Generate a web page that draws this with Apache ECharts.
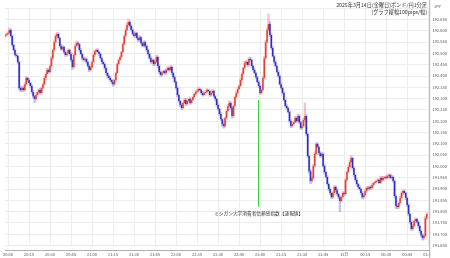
<!DOCTYPE html>
<html><head><meta charset="utf-8">
<script src="https://cdn.jsdelivr.net/npm/echarts@6/dist/echarts.min.js"></script>
<style>html,body{margin:0;padding:0;background:#fff}#c{width:450px;height:258px}</style>
</head><body><div id="c"></div>
<script>
// 1-minute GBP/JPY candles from 19:58 to 00:59 (JST)
const startMinute = 19 * 60 + 58;
const categoryCount = 304;
const firstOpen = 192.575;
const closes = [
192.580,192.585,
192.589,192.603,192.576,192.536,192.514,192.492,192.488,192.461,192.346,192.337,192.346,192.337,192.363,192.390,192.381,
192.368,192.355,192.328,192.310,192.297,192.315,192.328,192.337,192.324,192.346,192.363,192.390,192.408,192.426,192.417,
192.443,192.478,192.514,192.549,192.576,192.585,192.567,192.532,192.518,192.527,192.505,192.492,192.500,192.514,192.496,
192.470,192.439,192.492,192.532,192.545,192.540,192.514,192.496,192.478,192.470,192.474,192.461,192.443,192.426,192.439,
192.461,192.492,192.509,192.514,192.505,192.496,192.478,192.461,192.452,192.434,192.412,192.399,192.390,192.381,192.373,
192.363,192.381,192.412,192.452,192.470,192.483,192.505,192.540,192.576,192.603,192.625,192.638,192.620,192.603,192.585,
192.576,192.589,192.567,192.558,192.571,192.545,192.532,192.549,192.532,192.514,192.496,192.478,192.461,192.470,192.452,
192.461,192.483,192.443,192.417,192.403,192.412,192.421,192.412,192.426,192.434,192.426,192.439,192.412,192.394,192.373,
192.346,192.315,192.288,192.271,192.258,192.280,192.293,192.275,192.288,192.297,192.280,192.293,192.306,192.319,192.328,
192.333,192.342,192.337,192.324,192.315,192.324,192.328,192.337,192.333,192.315,192.324,192.333,192.310,192.297,192.271,
192.253,192.231,192.208,192.186,192.177,192.213,192.244,192.266,192.280,192.258,192.222,192.266,192.306,192.324,192.342,
192.355,192.381,192.408,192.434,192.456,192.461,192.448,192.474,192.470,192.443,192.426,192.412,192.394,192.373,192.355,
192.324,192.337,192.390,192.478,192.549,192.603,192.629,192.580,192.523,192.487,192.461,192.443,192.417,192.399,192.363,
192.346,192.324,192.293,192.266,192.258,192.240,192.200,192.178,192.187,192.195,192.213,192.200,192.222,192.195,192.169,
192.178,192.204,192.222,192.142,192.045,191.978,191.934,191.948,192.001,192.054,192.098,192.085,192.058,192.045,192.054,
192.001,191.974,191.952,191.921,191.899,191.881,191.863,191.881,191.908,191.894,191.877,191.863,191.846,191.863,191.881,
191.877,191.939,191.974,191.996,192.019,192.036,191.992,191.961,191.939,191.921,191.908,191.899,191.881,191.863,191.872,
191.890,191.904,191.899,191.908,191.904,191.917,191.926,191.930,191.935,191.939,191.926,191.948,191.939,191.948,191.952,
191.948,191.957,191.961,191.948,191.952,191.935,191.868,191.824,191.819,191.837,191.859,191.881,191.890,191.881,191.859,
191.828,191.788,191.753,191.722,191.735,191.757,191.766,191.753,191.735,191.713,191.695,191.682,191.691,191.770,191.788
];
// upper / lower wick lengths, in 0.001 JPY
const upperWick = [
4,3,
6,8,3,4,2,5,7,3,5,6,4,8,5,7,3,
5,2,4,6,3,8,5,4,6,3,5,7,4,6,5,
4,6,3,5,8,6,4,3,7,5,4,6,3,5,4,
5,3,6,4,8,5,3,6,4,5,7,3,4,6,5,
4,7,5,3,6,4,5,3,6,4,5,3,4,6,3,
5,4,3,6,4,5,3,6,4,7,9,12,5,6,4,
5,6,3,4,7,3,5,6,4,3,5,4,6,5,3,
4,8,3,5,4,6,3,5,4,7,3,6,4,3,5,
3,4,5,3,6,4,5,7,3,4,6,3,5,4,6,
5,7,3,4,6,3,5,6,4,3,5,6,3,4,3,
4,3,5,3,6,4,5,7,8,4,6,5,4,6,5,
4,6,5,3,7,6,4,5,8,4,3,5,4,3,4,
3,5,6,8,7,9,45,10,6,5,4,6,3,5,4,
6,4,5,3,6,4,3,5,6,4,7,5,8,4,3,
5,7,58,6,5,4,6,5,7,8,6,5,4,6,5,
4,5,3,6,4,5,3,6,5,4,6,3,5,4,6,
5,7,6,8,6,10,4,5,3,6,4,5,3,6,4,
5,4,6,3,5,6,4,5,3,6,4,8,5,6,4,
5,6,4,5,7,3,4,5,6,4,7,6,5,4,3,
4,5,3,6,5,4,6,3,5,4,3,5,6,8,6
];
const lowerWick = [
3,5,
4,3,6,5,4,3,6,5,8,6,5,4,3,5,6,
4,6,5,7,15,4,5,6,3,5,4,3,6,4,5,
3,5,4,6,3,5,4,6,5,3,5,6,4,3,5,
6,10,4,3,5,4,6,3,5,4,3,6,5,7,4,
5,3,4,6,3,5,4,6,3,5,4,6,5,4,7,
8,4,5,3,6,4,5,3,4,5,3,4,6,5,4,
3,5,4,6,3,5,4,3,6,5,4,3,5,4,6,
5,3,6,7,5,4,3,5,4,3,5,4,6,5,4,
6,5,4,7,6,4,3,5,4,3,6,4,3,5,4,
3,4,5,6,4,3,5,4,3,6,4,3,5,6,5,
4,6,5,7,8,4,5,3,4,6,9,4,3,5,4,
3,4,5,3,4,5,6,3,4,5,4,3,5,4,6,
5,4,3,4,3,4,5,6,5,4,5,3,4,5,4,
4,5,6,4,5,3,6,7,4,5,3,6,4,5,6,
4,3,5,6,7,8,10,5,4,3,5,4,6,5,4,
5,6,4,5,6,7,5,4,6,5,6,7,46,5,4,
6,4,3,5,4,3,5,6,4,5,6,4,5,7,5,
4,5,3,4,6,3,5,4,3,5,4,3,5,4,3,
4,3,5,4,3,5,8,10,6,5,4,3,5,4,6,
5,6,8,5,4,3,5,4,6,5,7,8,5,4,5
];
const tickTimes = ['20:00','20:15','20:30','20:45','21:00','21:15','21:30','21:45','22:00','22:15','22:30','22:45','23:00','23:15','23:30','23:45','00:00','00:15','00:30','00:45','01:00'];
const tickLabels = ['20:00','20:15','20:30','20:45','21:00','21:15','21:30','21:45','22:00','22:15','22:30','22:45','23:00','23:15','23:30','23:45','15日','00:15','00:30','00:45','01:00'];
const titleLines = ['2025年3月14日(金曜日)ポンド/円1分足', '[グラフ縦幅100pips/幅]'];
const eventTime = '22:59';
const eventText = 'ミシガン大学消費者信頼感指数【速報値】';
const eventRange = [192.293, 191.820];

const categories = [];
for (let k = 0; k < categoryCount; k++) {
  const m = (startMinute + k) % 1440;
  categories.push(String(Math.floor(m / 60)).padStart(2, '0') + ':' + String(m % 60).padStart(2, '0'));
}
const candles = closes.map((c, j) => {
  const o = j === 0 ? firstOpen : closes[j - 1];
  const hi = Math.max(o, c) + upperWick[j] / 1000;
  const lo = Math.min(o, c) - lowerWick[j] / 1000;
  return [j, o, c, lo, hi];
});

const FONT = '"Noto Sans CJK JP", "Noto Sans", sans-serif';
const chart = echarts.init(document.getElementById('c'), null, {renderer: 'canvas'});
const isTick = (i, v) => tickTimes.indexOf(v) >= 0;
chart.setOption({
  animation: false,
  backgroundColor: '#fff',
  textStyle: {fontFamily: FONT},
  grid: {left: 0.165, right: 20.3, top: 8, bottom: 12.7, containLabel: false},
  xAxis: {
    type: 'category', data: categories, boundaryGap: false, offset: 4.5,
    axisLine: {lineStyle: {color: '#b0b0b0', width: 1}},
    axisTick: {show: false},
    axisLabel: {interval: isTick, formatter: v => tickLabels[tickTimes.indexOf(v)], fontSize: 4, color: '#555', margin: 2.5, fontFamily: FONT},
    splitLine: {show: true, interval: isTick, lineStyle: {color: '#ececec', width: 1}}
  },
  yAxis: {
    type: 'value', position: 'right', min: 191.65, max: 192.70, interval: 0.05,
    axisLine: {show: false},
    axisTick: {show: false},
    axisLabel: {formatter: v => v.toFixed(3), fontSize: 4, color: '#555', margin: 3, showMaxLabel: false, fontFamily: FONT},
    splitLine: {lineStyle: {color: '#ececec', width: 1}}
  },
  series: [{
    type: 'custom',
    data: candles,
    encode: {x: 0, y: [1, 2, 3, 4]},
    clip: true,
    renderItem: function (params, api) {
      const j = api.value(0), o = api.value(1), c = api.value(2), lo = api.value(3), hi = api.value(4);
      const pO = api.coord([j, o]), pC = api.coord([j, c]), pL = api.coord([j, lo]), pH = api.coord([j, hi]);
      const up = c >= o;
      const bw = 1.5;
      const top = Math.min(pO[1], pC[1]);
      const h = Math.max(Math.abs(pO[1] - pC[1]), 0.8);
      return {type: 'group', children: [
        {type: 'line', shape: {x1: pH[0], y1: pH[1] - 0.5, x2: pL[0], y2: pL[1] + 0.5},
         style: {stroke: up ? 'rgba(225,90,90,0.35)' : 'rgba(90,80,200,0.35)', lineWidth: 2.4}},
        {type: 'rect', shape: {x: pO[0] - bw / 2, y: top, width: bw, height: h},
         style: {fill: up ? '#e4402f' : '#2a2dc8'}}
      ]};
    },
    markLine: {
      silent: true, symbol: 'none', animation: false,
      lineStyle: {color: '#3ccf3c', width: 1, type: 'solid'},
      label: {show: true, position: 'end', formatter: eventText, fontSize: 4.7, color: '#333', distance: 4, fontFamily: FONT},
      data: [[{coord: [eventTime, eventRange[0]]}, {coord: [eventTime, eventRange[1]]}]]
    }
  }],
  graphic: [
    {type: 'rect', shape: {x: 430.2, y: 250.3, width: 20, height: 8}, style: {fill: '#fff'}, z: 100},
    {type: 'line', shape: {x1: 429.7, y1: 0, x2: 429.7, y2: 258}, style: {stroke: '#b0b0b0', lineWidth: 1}, z: 101},
    {type: 'text', x: 427, y: 2.5, z: 102, style: {text: titleLines[0], align: 'right', font: '5.2px ' + FONT, fill: '#333'}},
    {type: 'text', x: 427, y: 9, z: 102, style: {text: titleLines[1], align: 'right', font: '5.2px ' + FONT, fill: '#333'}},
    {type: 'text', x: 434, y: 4.5, z: 102, style: {text: 'JPY', font: '4px ' + FONT, fill: '#555'}}
  ]
});
</script></body></html>
